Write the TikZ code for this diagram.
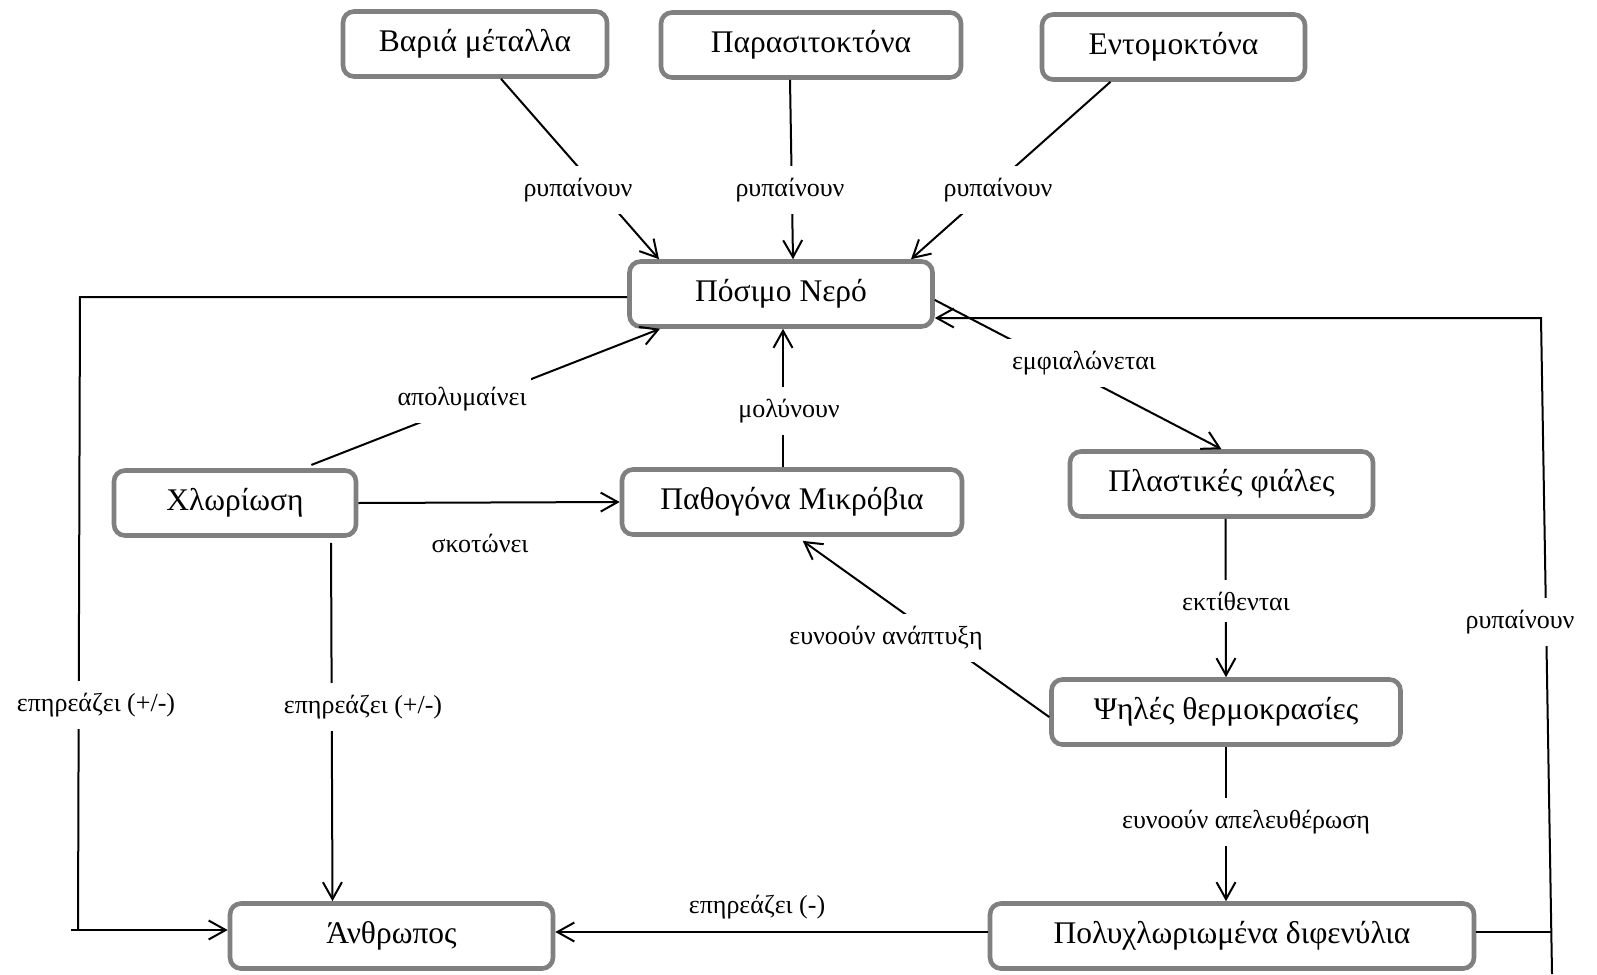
\documentclass[tikz,border=0pt]{standalone}
\usepackage{fontspec}
\setmainfont{Liberation Serif}
\usetikzlibrary{arrows.meta}
\definecolor{boxgray}{RGB}{128,128,128}
\begin{document}
\begin{tikzpicture}[x=1pt,y=-1pt,
  box/.style={draw=boxgray, line width=4.6pt, rounded corners=11pt, fill=white,
    minimum height=65pt, inner sep=0pt, font=\fontsize{31.5}{36}\selectfont},
  lbl/.style={fill=white, inner xsep=4pt, inner ysep=12pt, font=\fontsize{26}{30}\selectfont},
  plainlbl/.style={inner sep=0pt, font=\fontsize{26}{30}\selectfont},
  conn/.style={line width=2pt},
  arr/.style={conn, -{Straight Barb[length=17pt,width=19pt]}}]
\useasboundingbox (0,0) rectangle (1597,974);

% concept boxes
\node[box, minimum width=264pt] (bar)   at (475,44)    {Βαριά μέταλλα};
\node[box, minimum width=300pt] (par)   at (811,45)    {Παρασιτοκτόνα};
\node[box, minimum width=263pt] (ent)   at (1173.5,47) {Εντομοκτόνα};
\node[box, minimum width=303pt] (nero)  at (781,294)   {Πόσιμο Νερό};
\node[box, minimum width=242pt] (chl)   at (235,503)   {Χλωρίωση};
\node[box, minimum width=340pt] (path)  at (792,502)   {Παθογόνα Μικρόβια};
\node[box, minimum width=303pt] (plast) at (1221.5,484) {Πλαστικές φιάλες};
\node[box, minimum width=349pt] (therm) at (1226,712)  {Ψηλές θερμοκρασίες};
\node[box, minimum width=323pt] (anthr) at (391.5,936) {Άνθρωπος};
\node[box, minimum width=484pt] (pcb)   at (1232,936)  {Πολυχλωριωμένα διφενύλια};

% pollutants into drinking water
\draw[arr] ([xshift=26pt]bar.south) -- ([xshift=-122pt]nero.north)
  node[lbl] at (578,190) {ρυπαίνουν};
\draw[arr] ([xshift=-21pt]par.south) -- ([xshift=12pt]nero.north)
  node[lbl] at (790,190) {ρυπαίνουν};
\draw[arr] ([xshift=-63pt]ent.south) -- ([xshift=130pt]nero.north)
  node[lbl] at (998,190) {ρυπαίνουν};

% drinking water affects humans (left loop)
\coordinate (ltop)  at (80,297);
\coordinate (lbot)  at (78,930);
\coordinate (lstub) at (71,930);
\draw[conn] ([yshift=-3pt]nero.west) -- (ltop) -- (lbot)
  node[lbl] at (96,705) {επηρεάζει (+/-)};
\draw[arr] (lstub) -- (anthr.west |- lstub);

% chlorination
\draw[arr, shorten <=9pt] ([xshift=68pt]chl.north) -- ([xshift=-121pt]nero.south)
  node[lbl] at (462,399) {απολυμαίνει};
\draw[arr] (chl.east) -- (path.west)
  node[plainlbl] at (480,543) {σκοτώνει};
\draw[arr, shorten <=5pt] ([xshift=96pt]chl.south) -- ([xshift=-59pt]anthr.north)
  node[lbl] at (363,707) {επηρεάζει (+/-)};

% microbes
\draw[arr] ([xshift=-9pt]path.north) -- ([xshift=2pt]nero.south)
  node[lbl] at (789,411) {μολύνουν};

% bottling chain
\draw[arr] ([yshift=-6pt]nero.east) -- (plast.north)
  node[lbl] at (1084,363) {εμφιαλώνεται};
\draw[arr] ([xshift=4pt]plast.south) -- (therm.north)
  node[lbl] at (1236,601) {εκτίθενται};
\draw[arr, shorten >=7pt] ([yshift=-5pt]therm.west) -- ([xshift=5pt]path.south)
  node[lbl] at (886,638) {ευνοούν ανάπτυξη};
\draw[arr] (therm.south) -- ([xshift=-6pt]pcb.north)
  node[lbl] at (1246,822) {ευνοούν απελευθέρωση};

% PCBs
\draw[arr] ([yshift=4pt]pcb.west) -- ([yshift=4pt]anthr.east)
  node[plainlbl] at (757,907) {επηρεάζει (-)};
\coordinate (rb)   at (1551,932);
\coordinate (rbot) at (1552,974);
\coordinate (rtop) at (1541,318);
\draw[conn] ([yshift=4pt]pcb.east) -- (rb);
\draw[arr] (rbot) -- (rtop) -- (nero.east |- rtop)
  node[lbl] at (1520,622) {ρυπαίνουν};
\end{tikzpicture}
\end{document}
